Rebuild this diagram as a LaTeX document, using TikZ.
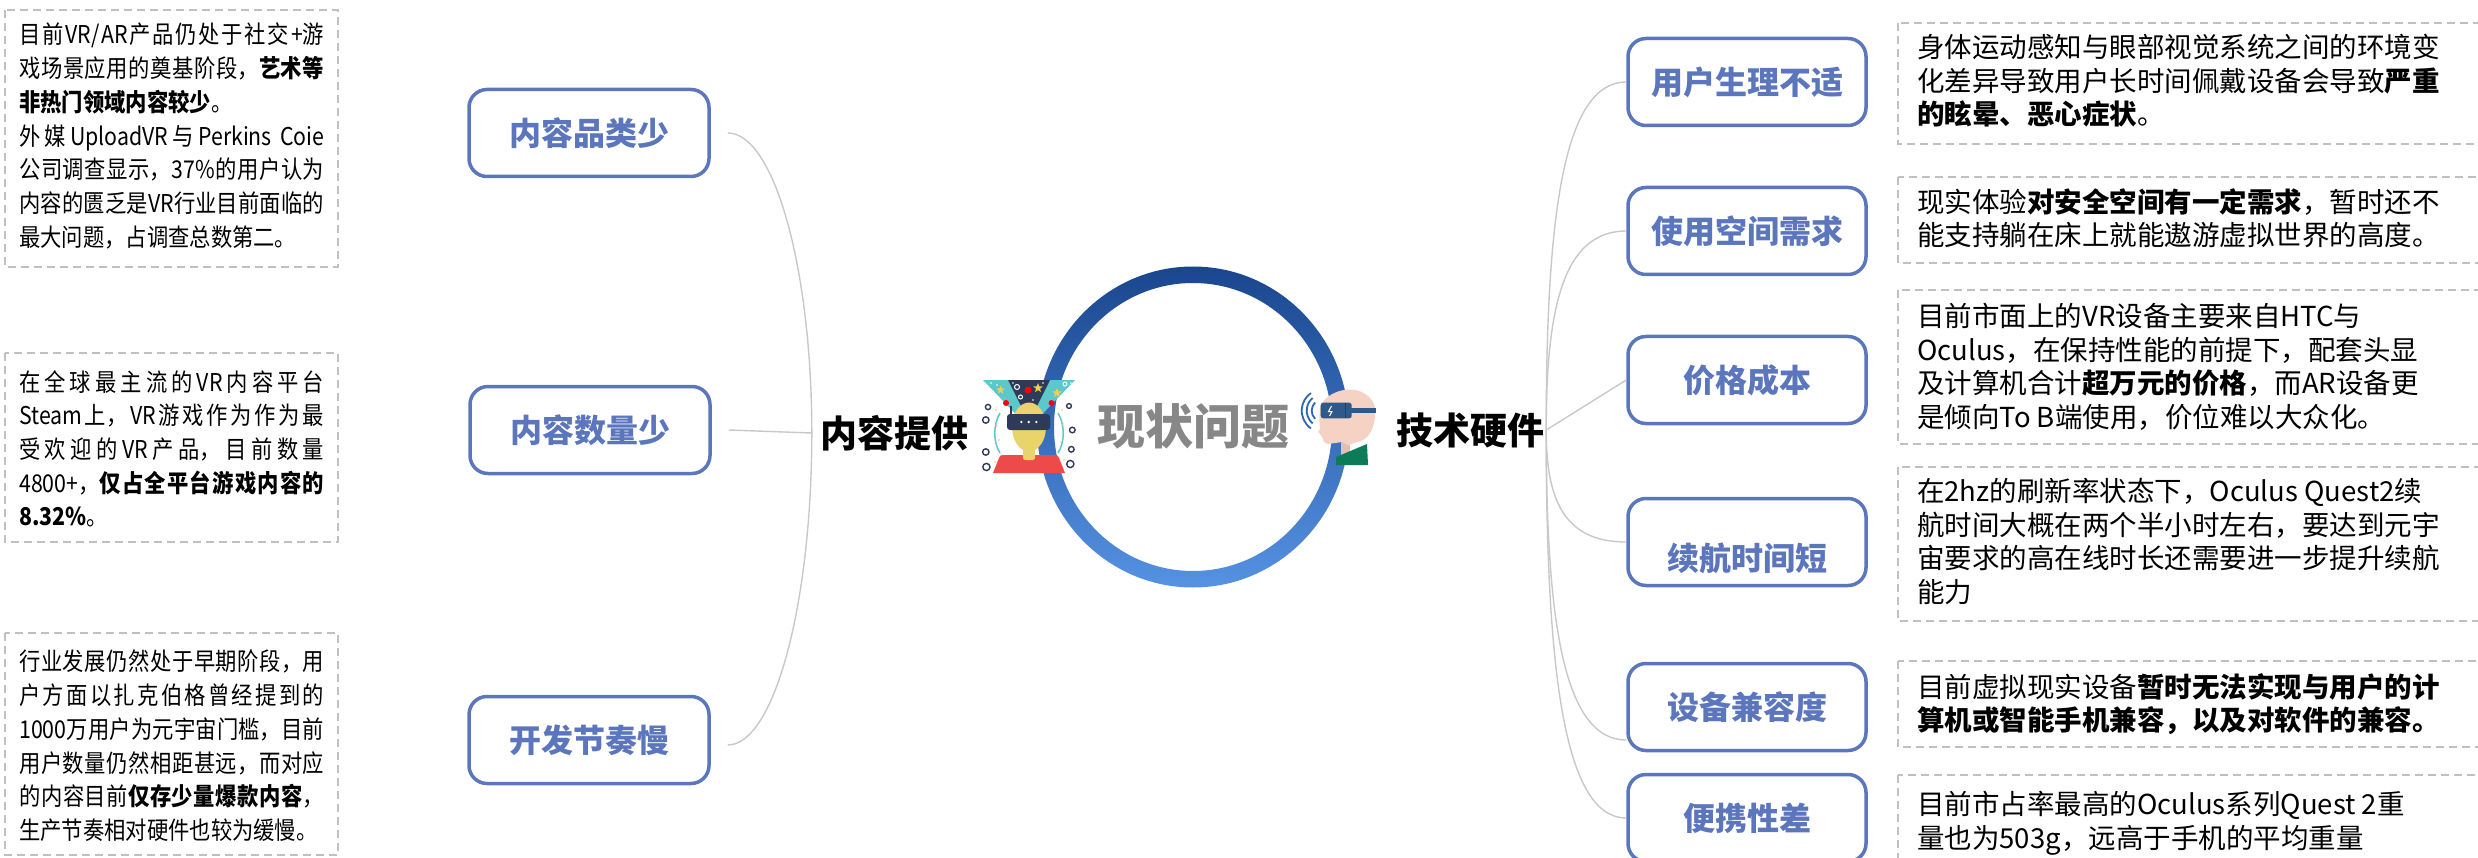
\documentclass[tikz,border=0pt]{standalone}
\usepackage{fontspec}
\setmainfont{Noto Sans CJK SC}
\newfontfamily\notefont{Noto Sans CJK SC}[FakeStretch=0.87]
\usetikzlibrary{calc}
\XeTeXlinebreaklocale "zh"
\XeTeXlinebreakskip=0pt plus 3pt
\XeTeXlinebreakpenalty=10000
\setlength{\parindent}{0pt}

\definecolor{topicblue}{HTML}{5B76BC}
\definecolor{linkgray}{HTML}{C8C8C8}
\definecolor{dashgray}{HTML}{C0C0C0}
\definecolor{coregray}{HTML}{878787}
\definecolor{ringtop}{HTML}{1A468E}
\definecolor{ringmid}{HTML}{2468CC}
\definecolor{ringbot}{HTML}{5592E2}
\definecolor{tealA}{HTML}{5CC8CC}
\definecolor{navyA}{HTML}{2F3A58}
\definecolor{headY}{HTML}{E9D46C}
\definecolor{shirtR}{HTML}{EE4A4A}
\definecolor{starY}{HTML}{F2CF4A}
\definecolor{skinA}{HTML}{F6D2C4}
\definecolor{skinB}{HTML}{E8BFAF}
\definecolor{shirtG}{HTML}{0B7B58}
\definecolor{goggleB}{HTML}{2D5A8A}
\definecolor{goggleD}{HTML}{1E3F66}
\definecolor{wifiB}{HTML}{2D68AE}

\tikzset{
  topic/.style={draw=topicblue, line width=3.5pt, rounded corners=18pt, fill=white,
    text=topicblue, font=\bfseries\fontsize{32}{38}\selectfont,
    minimum width=240pt, minimum height=87pt, inner sep=0pt},
  note/.style={draw=dashgray, line width=2pt, dash pattern=on 8pt off 5pt},
  lefttext/.style={anchor=north west, inner sep=0pt, text width=305pt, align=justify,
    font=\notefont\fontsize{24.5}{33.7}\selectfont},
  righttext/.style={anchor=north west, align=left, inner sep=0pt,
    font=\fontsize{27.5}{33.6}\selectfont},
  branch/.style={inner sep=0pt, font=\bfseries\fontsize{37}{44}\selectfont},
  link/.style={draw=linkgray, line width=1.4pt},
  pics/starshape/.style={code={
    \fill[starY] (-90:#1) -- (-54:0.42*#1) -- (-18:#1) -- (18:0.42*#1) -- (54:#1)
      -- (90:0.42*#1) -- (126:#1) -- (162:0.42*#1) -- (198:#1) -- (234:0.42*#1) -- cycle;}},
}

\begin{document}
\begin{tikzpicture}[x=1pt, y=-1pt]
\useasboundingbox (0,0) rectangle (2478,858);
\clip (0,0) rectangle (2478,858);

% ---------- centre ring ----------
\shade[top color=ringtop, middle color=ringmid, bottom color=ringbot, even odd rule]
  (1193,427) ellipse [x radius=156, y radius=160.5]
  (1193,427) ellipse [x radius=139, y radius=144];
\node[inner sep=0pt, text=coregray, font=\bfseries\fontsize{48}{56}\selectfont] (core) at (1193,426) {现状问题};

% ---------- branch titles ----------
\node[branch] (content) at (894,433) {内容提供};
\node[branch] (tech) at (1470,430) {技术硬件};
\coordinate (LJ) at ([xshift=-8pt]content.west);
\coordinate (RJ) at ([xshift=2pt]tech.east);

% ---------- left topics ----------
\node[topic] (k1) at (589,133) {内容品类少};
\node[topic] (k2) at (590,430) {内容数量少};
\node[topic] (k3) at (589,740) {开发节奏慢};

% ---------- right topics ----------
\node[topic, minimum width=238pt] (t1) at (1747,82) {用户生理不适};
\node[topic, minimum width=238pt] (t2) at (1747,231) {使用空间需求};
\node[topic, minimum width=238pt] (t3) at (1747,380) {价格成本};
\node[topic, minimum width=238pt, text height=56pt, text depth=0pt] (t4) at (1747,542) {续航时间短};
\node[topic, minimum width=238pt] (t5) at (1747,707) {设备兼容度};
\node[topic, minimum width=238pt] (t6) at (1747,818) {便携性差};

% ---------- connectors ----------
\coordinate (k1e) at ([xshift=17pt]k1.east);
\coordinate (k2e) at ([xshift=17pt]k2.east);
\coordinate (k3e) at ([xshift=17pt,yshift=-5pt]k3.east);
\draw[link] (k1e) .. controls ($(k1e)!0.55!(k1e-|LJ)$) and ($(LJ)!0.55!(LJ|-k1e)$) .. (LJ);
\draw[link] (k2e) -- (LJ);
\draw[link] (k3e) .. controls ($(k3e)!0.55!(k3e-|LJ)$) and ($(LJ)!0.55!(LJ|-k3e)$) .. (LJ);

\coordinate (t5in) at ([yshift=-33pt]t5.west);
\draw[link] (RJ) .. controls ($(RJ)!0.6!(RJ|-t1.west)$) and ($(t1.west)!0.8!(t1.west-|RJ)$) .. (t1.west);
\draw[link] (RJ) .. controls ($(RJ)!0.6!(RJ|-t2.west)$) and ($(t2.west)!0.8!(t2.west-|RJ)$) .. (t2.west);
\draw[link] (RJ) -- (t3.west);
\draw[link] (RJ) .. controls ($(RJ)!0.6!(RJ|-t4.west)$) and ($(t4.west)!0.8!(t4.west-|RJ)$) .. (t4.west);
\draw[link] (RJ) .. controls ($(RJ)!0.6!(RJ|-t5in)$) and ($(t5in)!0.8!(t5in-|RJ)$) .. (t5in);
\draw[link] (RJ) .. controls ($(RJ)!0.6!(RJ|-t6.west)$) and ($(t6.west)!0.8!(t6.west-|RJ)$) .. (t6.west);

% ---------- left notes ----------
\draw[note] (5,10) rectangle (338,267);
\node[lefttext] (na) at (19,23) {%
  目前VR/AR产品仍处于社交+游\linebreak
  戏场景应用的奠基阶段，\textbf{艺术等}\linebreak
  \textbf{非热门领域内容较少}。\\
  外媒UploadVR与Perkins Coie\linebreak
  公司调查显示，37\%的用户认为\linebreak
  内容的匮乏是VR行业目前面临的\linebreak
  最大问题，占调查总数第二。};

\draw[note] (5,353) rectangle (338,542);
\node[lefttext] (nb) at (19,370) {%
  在全球最主流的VR内容平台\linebreak
  Steam上，VR游戏作为作为最\linebreak
  受欢迎的VR产品，目前数量\linebreak
  4800+，\textbf{仅占全平台游戏内容的}\linebreak
  \textbf{8.32\%}。};

\draw[note] (5,633) rectangle (338,855);
\node[lefttext] (nc) at (19,650) {%
  行业发展仍然处于早期阶段，用\linebreak
  户方面以扎克伯格曾经提到的\linebreak
  1000万用户为元宇宙门槛，目前\linebreak
  用户数量仍然相距甚远，而对应\linebreak
  的内容目前\textbf{仅存少量爆款内容}，\linebreak
  生产节奏相对硬件也较为缓慢。};

% ---------- right notes ----------
\draw[note] (1898,23) rectangle (2530,144);
\node[righttext] (r1) at (1917,34) {%
  身体运动感知与眼部视觉系统之间的环境变\\
  化差异导致用户长时间佩戴设备会导致\textbf{严重}\\
  \textbf{的眩晕、恶心症状}。};

\draw[note] (1898,177) rectangle (2530,263);
\node[righttext] (r2) at (1917,188) {%
  现实体验\textbf{对安全空间有一定需求}，暂时还不\\
  能支持躺在床上就能遨游虚拟世界的高度。};

\draw[note] (1898,290) rectangle (2530,444);
\node[righttext] (r3) at (1917,303) {%
  目前市面上的VR设备主要来自HTC与\\
  Oculus，在保持性能的前提下，配套头显\\
  及计算机合计\textbf{超万元的价格}，而AR设备更\\
  是倾向To B端使用，价位难以大众化。};

\draw[note] (1898,467) rectangle (2530,621);
\node[righttext] (r4) at (1917,478) {%
  在2hz的刷新率状态下，Oculus Quest2续\\
  航时间大概在两个半小时左右，要达到元宇\\
  宙要求的高在线时长还需要进一步提升续航\\
  能力};

\draw[note] (1898,661) rectangle (2530,747);
\node[righttext] (r5) at (1917,673) {%
  目前虚拟现实设备\textbf{暂时无法实现与用户的计}\\
  \textbf{算机或智能手机兼容，以及对软件的兼容。}};

\draw[note] (1898,775) rectangle (2530,880);
\node[righttext] (r6) at (1917,791) {%
  目前市占率最高的Oculus系列Quest 2重\\
  量也为503g，远高于手机的平均重量};

% ---------- content icon (viewer with headset) ----------
\begin{scope}[shift={(983,380)}]
  \fill[tealA] (0,0) -- (92,0) -- (46,48) -- cycle;
  \fill[navyA] (25,0) -- (67,0) -- (46,42) -- cycle;
  \draw[white, line width=1pt] (34,7) circle (2.5) (37.5,17) circle (2) (82,4) circle (2);
  \fill[red] (45,10) circle (3.5) (23,23) circle (3) (68.5,23) circle (3);
  \pic at (17.5,10) {starshape=4.5};
  \pic at (55,8) {starshape=5};
  \pic at (74,13) {starshape=5};
  \fill[white] (8,3) circle (0.9) (14,5) circle (0.8) (60,3) circle (0.8) (50,20) circle (0.8) (30,3) circle (0.8) (88,3) circle (0.8);
  \draw[tealA, line width=1.5pt] (17,33) .. controls (10,45) and (10,62) .. (17,73);
  \draw[tealA, line width=1.5pt] (75,33) .. controls (82,45) and (82,62) .. (75,73);
  \fill[starY] (13,30) circle (0.8) (14,46) circle (0.8) (16,60) circle (0.8) (12,82) circle (0.8)
               (79,30) circle (0.8) (80,44) circle (0.8) (78,62) circle (0.8) (81,80) circle (0.8);
  \fill[shirtR] (10,93) -- (16,78) .. controls (17,75.5) .. (20,75) -- (72,75) .. controls (75,75.5) .. (76,78) -- (82,93) -- cycle;
  \fill[headY, rounded corners=2pt] (40,62) rectangle (52,80);
  \fill[headY] (46,47) ellipse [x radius=17, y radius=24.5];
  \fill[navyA, rounded corners=3pt] (24,34) rectangle (67,50);
  \draw[navyA, line width=1.2pt] (28,34) -- (28,26);
  \fill[white] (38.3,42) circle (1.3) (45.7,42) circle (1.3) (53.3,42) circle (1.3);
  \draw[navyA, line width=1.4pt] (5,27) circle (2.6) (2.8,40) circle (3.2) (2.8,72) circle (3.2) (3.4,87) circle (3.6)
       (86,26) circle (2.4) (89.3,50) circle (2.8) (88.3,69.3) circle (2.8) (87.3,84) circle (3.6);
\end{scope}

% ---------- hardware icon (head with goggles) ----------
\begin{scope}[shift={(1300,390)}]
  \fill[skinB] (41,48) rectangle (50,66);
  \fill[skinA] (21,15) .. controls (28,2) and (45,-2) .. (55,0) .. controls (70,3) and (77,14) .. (75,26)
     .. controls (74,38) and (70,46) .. (63,50) -- (48,55) -- (42,52) -- (28,54)
     .. controls (24,53) and (22,50) .. (22,47) -- (20,44) -- (18,42) -- (20,39)
     .. controls (19,30) and (19,20) .. (21,15) -- cycle;
  \fill[shirtG] (36,67) -- (67,54) -- (68,75) -- (36,75) -- cycle;
  \fill[goggleB] (51,18.3) rectangle (76,22.8);
  \fill[goggleB, rounded corners=2.5pt] (20.7,12.7) rectangle (51.7,28.3);
  \draw[goggleD, line width=1pt] (45,13) -- (45,28);
  \draw[white, line width=1pt] (31.5,16) -- (28.5,21.5) -- (32,21.5) -- (29.5,26);
  \draw[wifiB, line width=1.8pt] (23.3,20.7) ++(125:21.6) arc[start angle=125, end angle=235, radius=21.6];
  \draw[wifiB, line width=1.8pt] (23.3,20.7) ++(130:16.6) arc[start angle=130, end angle=230, radius=16.6];
  \draw[wifiB, line width=1.8pt] (23.3,20.7) ++(135:11.6) arc[start angle=135, end angle=225, radius=11.6];
\end{scope}
\end{tikzpicture}
\end{document}
